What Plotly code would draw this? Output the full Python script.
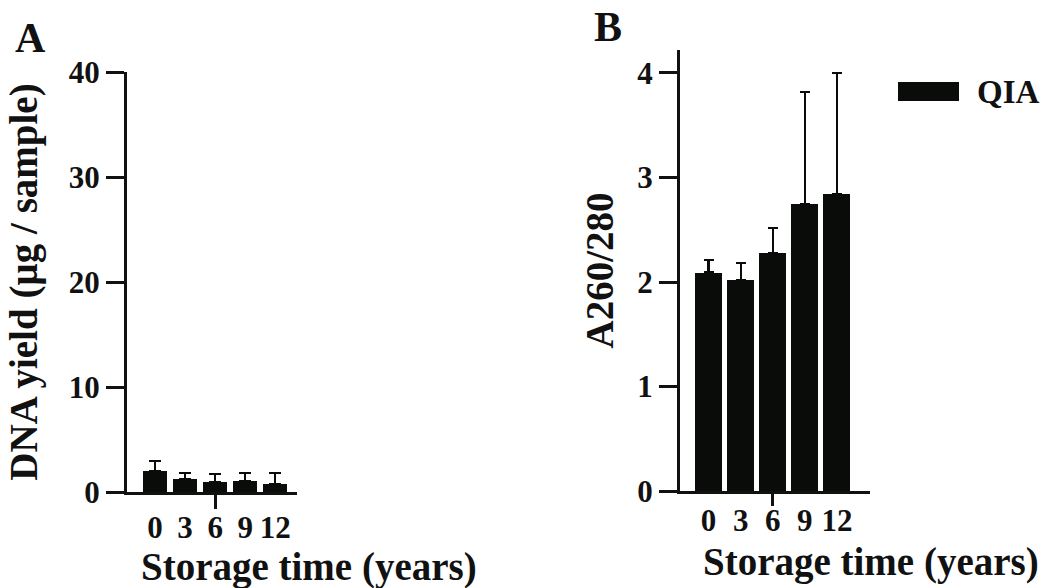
import plotly.graph_objects as go

# ---- data ----
categories = ["0", "3", "6", "9", "12"]
yield_mean = [2.03, 1.20, 0.98, 1.05, 0.73]
yield_err = [0.95, 0.58, 0.71, 0.73, 1.05]
ratio_mean = [2.09, 2.02, 2.28, 2.75, 2.84]
ratio_err = [0.12, 0.16, 0.24, 1.07, 1.16]
series_name = "QIA"
yA_ticks = [0, 10, 20, 30, 40]
yB_ticks = [0, 1, 2, 3, 4]

W, H = 1049, 588
BAR = "#0a0c0a"
FONT = "Liberation Serif"
xpos = list(range(len(categories)))

def px(x):
    return x / W

def py(y):
    return 1 - y / H

fig = go.Figure()

fig.add_trace(go.Bar(
    x=xpos, y=yield_mean, width=0.8, marker=dict(color=BAR, line=dict(width=0)),
    error_y=dict(type="data", array=yield_err, arrayminus=[0] * 5, symmetric=False,
                 color=BAR, thickness=2.2, width=6),
    xaxis="x", yaxis="y", showlegend=False, name=series_name,
))
fig.add_trace(go.Bar(
    x=xpos, y=ratio_mean, width=0.84, marker=dict(color=BAR, line=dict(width=0)),
    error_y=dict(type="data", array=ratio_err, arrayminus=[0] * 5, symmetric=False,
                 color=BAR, thickness=2.2, width=5),
    xaxis="x2", yaxis="y2", showlegend=False, name=series_name,
))
# empty traces to draw the single central tick of each x axis
fig.add_trace(go.Scatter(x=[None], y=[None], xaxis="x3", yaxis="y", showlegend=False))
fig.add_trace(go.Scatter(x=[None], y=[None], xaxis="x4", yaxis="y2", showlegend=False))

tickfont = dict(family=FONT, size=31, color="#111", weight="bold")
titlefont = dict(family=FONT, size=39, color="#111", weight="bold")

common_x = dict(showgrid=False, zeroline=False, showline=True, linewidth=3, linecolor="#111",
                tickvals=xpos, ticktext=categories, ticks="", tickfont=tickfont,
                fixedrange=True, automargin=False)
common_y = dict(showgrid=False, zeroline=False, showline=True, linewidth=3, linecolor="#111",
                ticks="outside", ticklen=18, tickwidth=3, tickcolor="#111", tickfont=tickfont,
                automargin=False)
overlay_x = dict(ticks="outside", tickwidth=2.5, tickcolor="#111", showticklabels=False,
                 showline=False, showgrid=False, zeroline=False, automargin=False)

xA_dom = [px(127), px(297)]
xB_dom = [px(680), px(870)]
xA_rng = [-0.93, 4.72]
xB_rng = [-0.89, 5.03]

fig.update_layout(
    template="none",
    width=W, height=H, margin=dict(l=0, r=0, t=0, b=0, pad=0), autosize=False,
    paper_bgcolor="white", plot_bgcolor="white", bargap=0,
    showlegend=False,
    xaxis=dict(domain=xA_dom, range=xA_rng, anchor="y", ticklabelstandoff=6, **common_x),
    yaxis=dict(domain=[py(492), py(72)], range=[0, 40], tickvals=yA_ticks, anchor="x",
               title=dict(text="DNA yield (µg / sample)", font=titlefont, standoff=20), **common_y),
    xaxis2=dict(domain=xB_dom, range=xB_rng, anchor="y2", ticklabelstandoff=0, **common_x),
    yaxis2=dict(domain=[py(491), py(50)], range=[0, 4.22], tickvals=yB_ticks, anchor="x2",
                title=dict(text="A260/280", font=titlefont, standoff=12), **common_y),
    xaxis3=dict(overlaying="x", anchor="y", range=xA_rng, tickvals=[2], ticklen=16, **overlay_x),
    xaxis4=dict(overlaying="x2", anchor="y2", range=xB_rng, tickvals=[2], ticklen=14, **overlay_x),
)

ann_font_title = dict(family=FONT, size=39, color="#111", weight="bold")
fig.add_annotation(text="Storage time (years)", xref="paper", yref="paper",
                   x=px(309), y=py(567), showarrow=False, font=ann_font_title,
                   xanchor="center", yanchor="middle")
fig.add_annotation(text="Storage time (years)", xref="paper", yref="paper",
                   x=px(871), y=py(562), showarrow=False, font=ann_font_title,
                   xanchor="center", yanchor="middle")
panel_font = dict(family=FONT, size=42, color="#111", weight="bold")
fig.add_annotation(text="A", xref="paper", yref="paper", x=px(30), y=py(38),
                   showarrow=False, font=panel_font, xanchor="center", yanchor="middle")
fig.add_annotation(text="B", xref="paper", yref="paper", x=px(608), y=py(27),
                   showarrow=False, font=panel_font, xanchor="center", yanchor="middle")

# legend (swatch + label)
fig.add_shape(type="rect", xref="paper", yref="paper", x0=px(898), x1=px(959),
              y0=py(101), y1=py(82), fillcolor=BAR, line=dict(width=0))
fig.add_annotation(text=series_name, xref="paper", yref="paper", x=px(975), y=py(92),
                   showarrow=False, font=dict(family=FONT, size=33, color="#111", weight="bold"),
                   xanchor="left", yanchor="middle")

fig.write_html("out.html")
